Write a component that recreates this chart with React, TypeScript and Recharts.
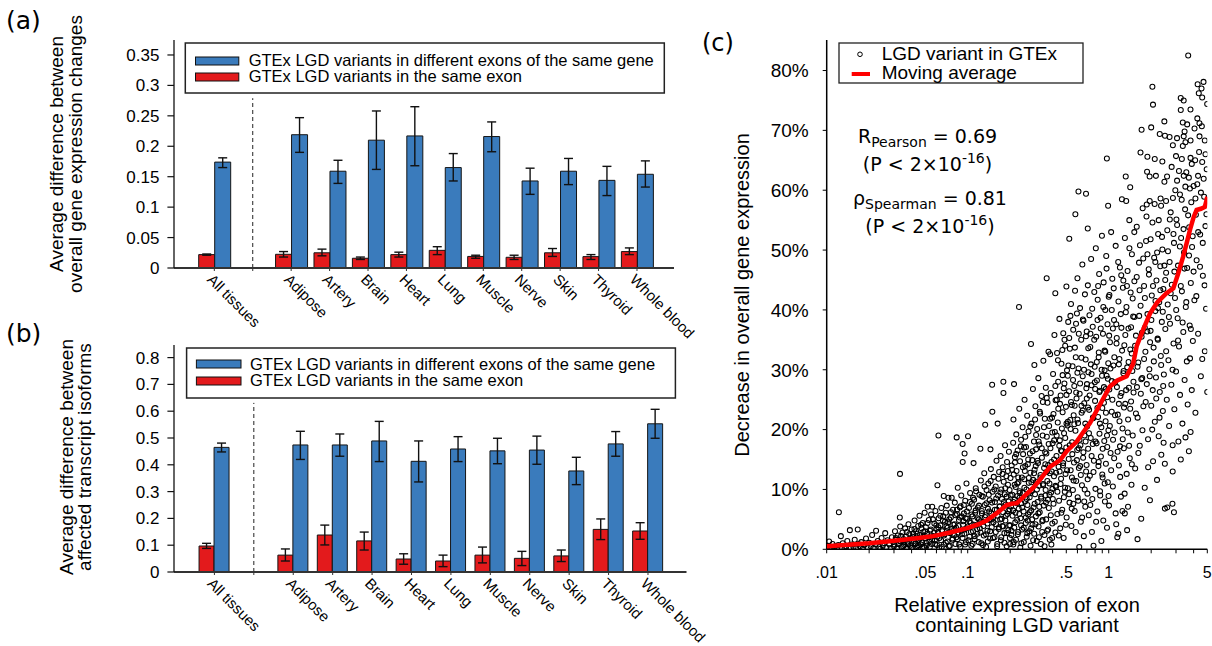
import React from 'react';
import { BarChart, Bar, XAxis, YAxis, ErrorBar, ReferenceLine, ScatterChart, Scatter } from 'recharts';

const SANS = '"Liberation Sans", Arial, Helvetica, sans-serif';
const DEJA = '"DejaVu Sans", Verdana, sans-serif';
const BLUE = '#3a7bbc';
const RED = '#e31a1c';

// ---------- categories (shared by panels a and b) ----------
const categories = ['All tissues', 'gap', 'Adipose', 'Artery', 'Brain', 'Heart', 'Lung', 'Muscle', 'Nerve', 'Skin', 'Thyroid', 'Whole blood'];

// ---------- panel (a): overall gene expression changes ----------
const aDiffExon = [0.174, null, 0.219, 0.159, 0.21, 0.217, 0.165, 0.216, 0.143, 0.159, 0.144, 0.154];
const aDiffExonLow = [0.165, null, 0.19, 0.139, 0.162, 0.168, 0.143, 0.191, 0.121, 0.137, 0.119, 0.133];
const aDiffExonHigh = [0.181, null, 0.247, 0.177, 0.258, 0.265, 0.188, 0.24, 0.164, 0.18, 0.167, 0.176];
const aSameExon = [0.022, null, 0.0225, 0.025, 0.016, 0.022, 0.029, 0.019, 0.0176, 0.025, 0.0187, 0.027];
const aSameExonLow = [0.021, null, 0.018, 0.02, 0.014, 0.018, 0.022, 0.016, 0.014, 0.019, 0.014, 0.022];
const aSameExonHigh = [0.023, null, 0.027, 0.031, 0.018, 0.026, 0.035, 0.021, 0.021, 0.032, 0.022, 0.033];
const aTicks = [0, 0.05, 0.1, 0.15, 0.2, 0.25, 0.3, 0.35];

// ---------- panel (b): affected transcript isoforms ----------
const bDiffExon = [0.465, null, 0.474, 0.474, 0.489, 0.413, 0.459, 0.452, 0.455, 0.377, 0.478, 0.553];
const bDiffExonLow = [0.448, null, 0.42, 0.432, 0.412, 0.336, 0.412, 0.404, 0.402, 0.326, 0.432, 0.499];
const bDiffExonHigh = [0.481, null, 0.525, 0.515, 0.562, 0.489, 0.505, 0.499, 0.507, 0.428, 0.524, 0.607];
const bSameExon = [0.097, null, 0.063, 0.138, 0.116, 0.0485, 0.041, 0.063, 0.051, 0.06, 0.159, 0.153];
const bSameExonLow = [0.088, null, 0.041, 0.101, 0.082, 0.029, 0.02, 0.034, 0.024, 0.039, 0.121, 0.122];
const bSameExonHigh = [0.107, null, 0.086, 0.175, 0.149, 0.068, 0.063, 0.093, 0.077, 0.082, 0.198, 0.184];
const bTicks = [0, 0.1, 0.2, 0.3, 0.4, 0.5, 0.6, 0.7, 0.8];

// ---------- panel (c): scatter, x = relative exon expression, y = % decrease ----------
const scatterVeryLow: [number, number][] = [
  [0.0101,0.2],[0.0102,0.6],[0.0104,1.3],[0.0105,0.1],[0.0107,0.4],[0.011,0.9],[0.0112,0.2],[0.0115,0.5],[0.0118,0.1],[0.0122,6.2],
  [0.0121,0.7],[0.0126,2.2],[0.0128,0.3],[0.013,1.0],[0.0134,0.1],[0.0137,0.5],[0.014,1.4],[0.0146,3.2],[0.0148,0.2],[0.015,0.8],
  [0.0155,0.4],[0.0158,1.6],[0.0162,0.2],[0.0166,3.3],[0.0168,0.9],[0.0172,0.5],[0.0176,1.2],[0.018,0.1],[0.0185,0.7],[0.019,1.8],
  [0.0195,0.3],[0.02,1.1],[0.0205,0.5],[0.021,2.4],[0.0215,0.2],[0.0224,3.1],[0.0222,0.8],[0.023,1.4],[0.0236,0.4],[0.024,0.1],
  [0.0245,1.9],[0.025,0.6],[0.0256,1.0],[0.026,2.7],[0.0265,0.3],[0.027,1.5],[0.0278,0.8],[0.0284,0.2],[0.029,2.0],[0.0296,1.2],
  [0.03,0.5],[0.0305,3.0],[0.031,1.6],[0.0315,0.1],[0.032,2.3],[0.0325,0.9],[0.0331,12.6],[0.033,5.3],[0.0332,3.8],[0.0335,1.3],
  [0.034,0.4],[0.0345,2.8],[0.035,1.7],[0.0355,0.7],[0.036,3.5],[0.0366,2.1],[0.037,0.2],[0.0375,1.1],[0.038,4.2],[0.0385,2.5],
  [0.039,0.6],[0.0395,1.9],[0.04,3.3],[0.0405,0.3],[0.041,2.6],[0.0415,1.4],[0.042,4.8],[0.0425,0.9],[0.043,3.0],[0.0436,2.0],
  [0.044,0.5],[0.0445,3.9],[0.045,1.6],[0.0455,5.6],[0.046,2.4],[0.0465,0.8],[0.047,3.5],[0.0475,1.2],[0.048,4.4],[0.0485,2.9],
  [0.049,0.4],[0.0495,6.1]
];
const scatterLow: [number, number][] = [
  [0.05,1.8],[0.0505,3.7],[0.051,0.6],[0.052,7.1],[0.0515,2.6],[0.053,4.9],[0.0535,1.3],[0.054,3.1],[0.055,5.8],[0.056,7.1],
  [0.0555,0.9],[0.057,2.2],[0.058,4.3],[0.0585,1.5],[0.059,6.4],[0.06,3.4],[0.061,10.7],[0.062,19.0],[0.0605,0.7],[0.0615,2.8],
  [0.0622,5.2],[0.063,1.9],[0.064,4.0],[0.065,6.9],[0.0655,0.4],[0.066,3.0],[0.0676,8.9],[0.067,5.5],[0.068,2.3],[0.069,4.6],
  [0.07,1.1],[0.071,7.3],[0.072,3.6],[0.073,8.6],[0.0735,0.5],[0.074,5.0],[0.075,2.7],[0.076,6.2],[0.077,8.6],[0.078,1.6],
  [0.079,4.1],[0.08,3.2],[0.081,7.8],[0.082,5.7],[0.0835,18.7],[0.083,2.0],[0.084,6.6],[0.085,10.3],[0.086,3.9],[0.087,0.8],
  [0.088,5.3],[0.089,7.2],[0.09,9.0],[0.092,17.6],[0.0921,14.6],[0.091,2.5],[0.093,4.7],[0.094,6.0],[0.095,16.0],[0.0952,3.3],
  [0.096,8.1],[0.097,1.2],[0.098,11.0],[0.099,5.1],[0.1005,18.9],[0.1,3.8],[0.102,6.9],[0.103,2.1],[0.104,9.4],[0.105,4.4],
  [0.106,0.6],[0.107,7.6],[0.108,5.5],[0.11,14.4],[0.109,3.0],[0.111,8.3],[0.112,1.7],[0.113,6.1],[0.114,10.2],[0.115,4.0],
  [0.117,2.6],[0.118,7.0],[0.12,5.0],[0.121,9.1],[0.123,16.8],[0.122,3.5],[0.124,11.5],[0.125,1.0],[0.126,6.4],[0.128,8.8],
  [0.129,4.6],[0.13,2.3],[0.131,12.7],[0.133,20.8],[0.132,7.4],[0.134,5.7],[0.135,0.4],[0.136,9.9],[0.138,3.1],[0.139,6.8],
  [0.14,11.0],[0.142,4.9],[0.143,8.2],[0.145,16.7],[0.144,1.8],[0.146,13.4],[0.147,6.0],[0.149,27.5],[0.1495,23.0],[0.148,3.7],
  [0.15,9.6],[0.152,5.3],[0.153,12.1],[0.155,2.0],[0.156,7.9],[0.158,10.5],[0.159,4.2],[0.16,14.8],[0.163,21.0],[0.161,6.6],
  [0.162,0.9],[0.164,9.0],[0.166,3.4],[0.167,12.9],[0.168,7.1],[0.17,5.0],[0.171,15.6],[0.172,1.5],[0.173,10.0],[0.175,8.4],
  [0.176,3.9],[0.177,13.7],[0.179,28.0],[0.1792,26.1],[0.178,6.2],[0.18,11.3],[0.182,2.7],[0.183,9.2],[0.184,17.4],[0.185,4.8],
  [0.186,7.5],[0.188,12.2],[0.189,0.5],[0.19,14.6],[0.191,5.9],[0.193,10.8],[0.194,3.2],[0.195,8.0],[0.196,16.3],[0.198,6.7],
  [0.199,1.9]
];
const scatterMid: [number, number][] = [
  [0.2,4.0],[0.201,11.9],[0.203,7.2],[0.204,2.4],[0.205,14.0],[0.207,9.1],[0.208,5.6],[0.21,17.8],[0.2105,0.8],[0.211,21.7],
  [0.212,12.5],[0.213,27.6],[0.214,3.6],[0.215,8.3],[0.216,15.4],[0.218,6.1],[0.219,10.4],[0.22,1.6],[0.221,19.2],[0.222,13.1],
  [0.224,4.9],[0.225,8.9],[0.226,16.5],[0.228,2.9],[0.229,11.2],[0.231,40.5],[0.23,6.8],[0.232,23.5],[0.233,9.7],[0.235,14.7],
  [0.236,0.3],[0.237,5.2],[0.239,18.3],[0.24,7.7],[0.242,12.0],[0.243,3.3],[0.245,20.4],[0.246,9.4],[0.247,15.9],[0.249,6.3],
  [0.25,1.2],[0.252,11.7],[0.253,25.0],[0.255,8.0],[0.256,13.9],[0.258,4.4],[0.259,17.1],[0.261,10.0],[0.262,2.1],[0.264,22.3],
  [0.265,7.4],[0.267,14.2],[0.268,5.8],[0.27,19.7],[0.271,11.1],[0.273,3.0],[0.275,8.7],[0.276,16.0],[0.278,12.8],[0.279,0.6],
  [0.281,34.3],[0.282,6.5],[0.283,21.0],[0.285,9.8],[0.287,14.9],[0.288,4.1],[0.29,26.8],[0.291,11.6],[0.293,7.0],[0.295,18.0],
  [0.297,30.8],[0.296,2.6],[0.298,13.3],[0.3,9.2],[0.302,23.9],[0.304,5.5],[0.305,16.7],[0.307,11.3],[0.309,1.4],[0.311,20.1],
  [0.313,7.9],[0.315,14.4],[0.317,28.6],[0.318,3.8],[0.32,10.6],[0.322,17.5],[0.324,6.2],[0.326,22.7],[0.328,12.4],[0.33,0.9],
  [0.332,8.5],[0.334,25.6],[0.336,15.3],[0.338,4.7],[0.34,19.0],[0.342,10.9],[0.344,31.5],[0.346,7.3],[0.348,13.6],[0.35,2.4],
  [0.352,21.8],[0.354,16.2],[0.356,9.0],[0.358,27.0],[0.36,5.0],[0.363,45.3],[0.362,12.9],[0.364,18.8],[0.366,3.1],[0.368,24.5],
  [0.37,8.3],[0.372,14.1],[0.374,33.0],[0.376,6.9],[0.378,20.6],[0.38,11.0],[0.382,1.6],[0.384,32.6],[0.386,16.9],[0.388,26.1],
  [0.39,9.5],[0.392,0.8],[0.394,13.0],[0.396,22.0],[0.398,4.3],[0.4,17.7],[0.403,29.3],[0.406,7.6],[0.409,12.2],[0.412,35.8],
  [0.415,19.6],[0.418,42.8],[0.4185,2.8],[0.42,24.9],[0.423,10.4],[0.426,15.6],[0.43,32.8],[0.432,5.9],[0.435,21.2],[0.438,28.0],
  [0.441,13.8],[0.444,8.1],[0.447,38.5],[0.45,18.2],[0.453,3.5],[0.456,25.7],[0.459,11.8],[0.462,31.0],[0.465,16.4],[0.468,6.6],
  [0.471,22.9],[0.474,14.0],[0.476,36.1],[0.479,1.9],[0.482,19.4],[0.485,27.7],[0.488,9.6],[0.491,34.0],[0.494,12.6],[0.497,23.8],
  [0.5,17.0],[0.501,43.9],[0.503,5.3],[0.506,29.9],[0.51,20.7],[0.513,10.2],[0.516,38.0],[0.52,15.1],[0.523,26.4],[0.525,51.9],
  [0.527,7.8],[0.53,33.5],[0.534,21.6],[0.537,13.2],[0.54,41.0],[0.544,3.9],[0.547,24.1],[0.55,17.9],[0.554,30.6],[0.557,9.9],
  [0.56,36.7],[0.564,22.4],[0.567,14.5],[0.57,27.3],[0.574,6.4],[0.577,43.2],[0.58,56.0],[0.581,19.8],[0.584,32.1],[0.588,11.4],
  [0.591,25.2],[0.595,39.4],[0.598,16.6]
];
const scatterUpperMid: [number, number][] = [
  [0.6,45.3],[0.602,8.7],[0.606,21.1],[0.61,59.8],[0.611,30.2],[0.614,13.6],[0.618,0.4],[0.622,26.0],[0.626,40.3],[0.63,17.4],
  [0.634,4.6],[0.638,35.0],[0.642,22.8],[0.646,10.7],[0.65,47.6],[0.654,28.9],[0.658,15.3],[0.662,38.2],[0.666,2.2],[0.67,24.4],
  [0.674,19.0],[0.678,42.6],[0.682,7.1],[0.686,31.7],[0.69,59.4],[0.691,13.0],[0.694,26.9],[0.698,36.4],[0.702,20.5],[0.706,9.3],
  [0.71,53.6],[0.711,44.1],[0.714,16.8],[0.718,29.6],[0.722,5.7],[0.726,23.3],[0.73,39.1],[0.735,12.3],[0.74,33.8],[0.745,18.6],
  [0.75,48.5],[0.755,27.4],[0.76,2.9],[0.765,8.4],[0.77,37.2],[0.775,21.9],[0.78,0.6],[0.785,14.8],[0.79,43.0],[0.795,30.5],
  [0.8,24.8],[0.805,10.1],[0.81,50.3],[0.815,35.5],[0.82,17.7],[0.825,28.2],[0.83,6.3],[0.835,41.7],[0.84,22.1],[0.845,13.9],
  [0.85,32.9],[0.855,46.0],[0.86,19.3],[0.865,26.5],[0.87,9.0],[0.875,38.7],[0.88,15.5],[0.887,1.4],[0.89,30.0],[0.895,52.4],
  [0.9,23.6],[0.905,12.0],[0.91,36.0],[0.915,4.8],[0.92,44.6],[0.925,27.1],[0.93,18.1],[0.935,33.2],[0.94,8.0],[0.945,40.0],
  [0.95,21.4],[0.955,14.3],[0.96,49.0],[0.965,29.0],[0.97,65.3],[0.972,3.6],[0.975,25.4],[0.98,37.6],[0.985,11.2],[0.99,57.4],
  [0.992,31.1],[0.995,19.9],[1.0,42.2],[1.005,7.3],[1.01,26.7],[1.02,34.6],[1.03,16.1],[1.04,53.0],[1.05,23.0],[1.06,45.2],
  [1.07,10.5],[1.08,30.7],[1.09,38.3],[1.1,19.5],[1.11,27.9],[1.12,50.7],[1.13,4.2],[1.14,35.3],[1.15,2.0],[1.16,22.5],
  [1.17,2.6],[1.172,41.4],[1.18,14.0],[1.19,31.8],[1.2,47.1],[1.21,25.6],[1.22,8.8],[1.23,37.0],[1.24,58.5],[1.25,6.4],
  [1.252,20.2],[1.26,43.7],[1.27,29.4],[1.28,16.9],[1.29,34.1],[1.3,6.0],[1.302,52.0],[1.31,24.3],[1.32,62.3],[1.322,39.6],
  [1.33,58.2],[1.34,12.6],[1.35,3.2],[1.352,30.4],[1.36,46.5],[1.37,7.1],[1.372,21.7],[1.38,36.9],[1.39,27.0],[1.4,55.0],
  [1.41,15.2],[1.42,60.5],[1.422,33.4],[1.43,42.9],[1.44,24.7],[1.45,10.8],[1.46,49.3],[1.47,29.8],[1.48,19.0],[1.49,38.9]
];
const scatterHigh: [number, number][] = [
  [1.5,26.2],[1.52,44.8],[1.54,13.5],[1.56,35.7],[1.58,53.9],[1.6,1.7],[1.602,22.0],[1.62,31.2],[1.64,47.9],[1.66,17.3],
  [1.68,66.3],[1.682,40.7],[1.7,5.1],[1.702,28.4],[1.71,70.1],[1.72,36.2],[1.74,57.0],[1.76,23.9],[1.78,44.0],[1.8,10.3],
  [1.82,33.0],[1.84,51.5],[1.86,57.6],[1.862,27.6],[1.87,63.1],[1.88,65.6],[1.882,39.3],[1.9,18.4],[1.92,46.8],[1.94,30.1],
  [1.95,62.3],[1.952,58.2],[1.96,8.2],[1.98,36.5],[2.0,70.5],[2.002,24.0],[2.02,42.4],[2.04,77.3],[2.042,54.6],[2.06,74.3],
  [2.062,14.7],[2.08,33.7],[2.1,48.7],[2.12,65.2],[2.122,21.3],[2.14,39.8],[2.16,62.4],[2.162,28.7],[2.18,44.9],[2.2,11.6],
  [2.22,35.2],[2.24,52.7],[2.26,18.9],[2.28,41.3],[2.3,69.4],[2.302,26.3],[2.32,47.3],[2.34,32.3],[2.35,57.4],[2.36,15.8],
  [2.38,38.0],[2.4,64.8],[2.402,50.1],[2.42,23.1],[2.44,43.5],[2.46,29.2],[2.48,71.5],[2.482,61.4],[2.5,14.3],[2.502,6.8],
  [2.505,69.1],[2.52,36.8],[2.55,58.2],[2.552,46.2],[2.58,25.0],[2.6,7.0],[2.602,53.3],[2.62,40.9],[2.65,31.6],[2.68,20.6],
  [2.7,68.9],[2.702,48.0],[2.72,37.7],[2.75,56.3],[2.78,27.5],[2.8,44.2],[2.83,7.6],[2.84,17.4],[2.842,13.0],[2.85,67.5],
  [2.852,58.7],[2.88,34.4],[2.9,6.2],[2.902,51.2],[2.92,23.4],[2.95,42.0],[3.0,65.7],[3.002,29.7],[3.02,55.1],[3.05,68.7],
  [3.052,61.6],[3.08,38.6],[3.1,47.4],[3.12,18.0],[3.15,33.9],[3.2,59.3],[3.202,25.8],[3.24,75.4],[3.242,73.4],[3.244,15.0],
  [3.26,52.0],[3.3,65.2],[3.302,43.1],[3.33,21.0],[3.35,71.3],[3.352,67.4],[3.38,36.3],[3.4,75.0],[3.402,69.0],[3.404,62.4],
  [3.42,49.6],[3.45,69.8],[3.452,28.3],[3.48,56.8],[3.5,68.0],[3.502,18.7],[3.52,40.5],[3.55,63.0],[3.58,31.4],[3.6,47.0],
  [3.63,24.2],[3.66,82.5],[3.7,62.1],[3.702,16.4],[3.72,53.8],[3.75,37.4],[3.77,31.9],[3.8,73.5],[3.802,65.4],[3.804,68.3],
  [3.806,19.6],[3.82,44.5],[3.85,58.0],[3.88,26.6],[3.9,50.5],[3.95,34.8],[4.0,60.7],[4.05,41.6],[4.1,65.0],[4.12,22.8],
  [4.15,55.9],[4.2,48.3],[4.25,72.0],[4.27,77.7],[4.3,62.4],[4.302,36.0],[4.35,76.2],[4.4,71.2],[4.402,69.0],[4.45,52.6],
  [4.5,28.9],[4.55,77.0],[4.6,75.5],[4.602,64.7],[4.604,31.8],[4.65,45.7],[4.7,78.1],[4.75,58.9],[4.8,68.3],[4.802,33.1],
  [4.85,54.0],[4.9,40.2],[4.95,63.5],[4.99,74.4],[4.995,26.3]
];
// the dense core of the cloud, close to the moving average
const coreLow: [number, number][] = [
  [0.0302,0.8],[0.0309,1.9],[0.0317,0.3],[0.0328,1.4],[0.0337,2.2],[0.0349,0.5],[0.0357,1.2],[0.0369,2.9],[0.0377,0.9],[0.0389,1.6],
  [0.0398,0.2],[0.0407,2.1],[0.0419,3.4],[0.0427,1.0],[0.0439,2.6],[0.0447,0.7],[0.0459,1.8],[0.0467,4.1],[0.0479,0.3],[0.0487,2.3],
  [0.0499,3.0],[0.0507,1.1],[0.0519,4.4],[0.0527,2.0],[0.0539,0.4],[0.0547,3.3],[0.0559,1.6],[0.0567,5.0],[0.0579,2.8],[0.0587,0.9],
  [0.0599,4.0],[0.0607,2.1],[0.0619,3.7],[0.0627,0.2],[0.0639,5.6],[0.0647,1.5],[0.0659,3.2],[0.0667,4.8],[0.0679,0.8],[0.0687,2.5],
  [0.0699,6.1],[0.0707,3.9],[0.0719,1.3],[0.0727,4.5],[0.0739,2.9],[0.0747,0.6],[0.0759,5.3],[0.0767,3.4],[0.0779,1.8],[0.0787,6.6],
  [0.0799,2.4],[0.0807,4.2],[0.0819,0.9],[0.0827,3.6],[0.0839,5.9],[0.0847,1.7],[0.0859,2.8],[0.0867,4.9],[0.0879,7.0],[0.0887,0.4],
  [0.0899,3.1],[0.0907,5.5],[0.0919,1.9],[0.0927,4.1],[0.0939,7.4],[0.0947,2.6],[0.0959,0.8],[0.0967,5.2],[0.0979,3.5],[0.0987,6.3],
  [0.1012,1.5],[0.1027,4.7],[0.1036,7.9],[0.1054,2.9],[0.1063,5.8],[0.1083,0.9],[0.1091,8.6],[0.1111,4.1],[0.1119,2.2],[0.1139,6.5],
  [0.1147,9.7],[0.1167,3.4],[0.1175,5.2],[0.1195,1.2],[0.1203,7.3],[0.1223,4.7],[0.1232,2.8],[0.1253,8.9],[0.1262,6.0],[0.1283,0.7],
  [0.1293,3.9],[0.1315,10.5],[0.1325,5.4],[0.1347,2.5],[0.1357,7.7],[0.1379,4.3],[0.1389,1.3],[0.1411,9.1],[0.1421,6.3],[0.1443,3.0],
  [0.1454,11.4],[0.1477,5.0],[0.1488,7.8],[0.1511,1.9],[0.1522,4.5],[0.1545,10.0],[0.1557,6.6],[0.1581,2.9],[0.1593,8.5],[0.1617,0.5],
  [0.1629,5.6],[0.1653,11.8],[0.1666,3.7],[0.1691,7.2],[0.1704,9.5],[0.1729,2.0],[0.1742,5.1],[0.1767,12.6],[0.1781,3.8],[0.1807,7.9],
  [0.1821,1.1],[0.1847,10.2],[0.1861,5.6],[0.1887,8.8],[0.1901,2.7],[0.1927,13.1],[0.1941,6.4],[0.1967,4.0],[0.1981,9.9],[0.1996,0.9]
];
const coreMid: [number, number][] = [
  [0.2015,9.0],[0.2044,3.1],[0.2066,13.3],[0.2098,6.5],[0.2119,1.2],[0.2152,10.8],[0.2173,4.5],[0.2207,15.9],[0.2229,7.7],[0.2263,2.5],
  [0.2285,12.0],[0.2321,5.9],[0.2343,9.4],[0.2378,17.2],[0.2401,1.0],[0.2437,7.0],[0.2461,13.7],[0.2497,3.6],[0.2522,10.3],[0.2559,18.8],
  [0.2584,5.3],[0.2621,8.4],[0.2647,2.7],[0.2685,15.0],[0.2711,11.9],[0.2751,6.2],[0.2777,20.5],[0.2816,3.5],[0.2844,9.8],[0.2884,16.4],
  [0.2912,1.5],[0.2953,12.7],[0.2982,7.6],[0.3024,4.2],[0.3053,19.1],[0.3095,10.0],[0.3125,14.8],[0.3168,6.0],[0.3199,2.0],[0.3243,23.0],
  [0.3274,12.0],[0.3318,8.8],[0.3351,16.9],[0.3396,4.9],[0.3428,10.7],[0.3474,20.4],[0.3507,0.5],[0.3553,14.2],[0.3587,7.8],[0.3634,25.3],
  [0.3669,11.4],[0.3716,3.3],[0.3751,17.6],[0.3799,9.1],[0.3835,21.8],[0.3883,5.7],[0.3921,14.6],[0.3969,1.9],[0.3977,19.5],[0.3988,10.1],
  [0.2108,7.9],[0.2246,11.0],[0.2389,4.0],[0.2541,13.1],[0.2698,9.3],[0.2864,5.0],[0.3037,13.9],[0.3219,7.1],[0.3411,24.6],[0.3612,16.0],
  [0.3821,12.7],[0.2162,14.5],[0.2331,8.6],[0.2509,17.0],[0.2666,4.8],[0.2831,11.2],[0.3004,21.7],[0.3183,18.0],[0.3372,2.9],[0.357,9.9],
  [0.4012,8.4],[0.4057,22.6],[0.4096,15.0],[0.4145,4.6],[0.4183,27.3],[0.4234,12.8],[0.4273,19.0],[0.4325,9.6],[0.4365,31.6],[0.4418,2.3],
  [0.4459,17.3],[0.4513,24.3],[0.4555,10.9],[0.4611,6.1],[0.4653,20.2],[0.4709,29.1],[0.4753,14.4],[0.4811,8.7],[0.4855,35.0],[0.4913,18.6],
  [0.4959,4.1],[0.5018,25.8],[0.5066,13.2],[0.5127,21.3],[0.5175,30.7],[0.5236,9.2],[0.5286,17.4],[0.5349,39.0],[0.5401,24.6],[0.5464,6.8],
  [0.5517,15.9],[0.5581,28.3],[0.5635,11.5],[0.5701,20.9],[0.5756,33.7],[0.5823,2.9],[0.5879,26.2],[0.5948,14.9],[0.6005,21.7],[0.6075,8.1],
  [0.6134,36.0],[0.6205,18.3],[0.6265,27.7],[0.6338,12.4],[0.6399,32.0],[0.6474,5.3],[0.6537,23.2],[0.6613,16.2],[0.6677,30.0],[0.6754,10.0],
  [0.682,21.0],[0.6899,35.6],[0.6966,14.1],[0.6988,25.2],[0.4101,18.2],[0.4288,25.0],[0.4484,13.0],[0.4689,33.3],[0.4903,10.3],[0.5127,29.0],
  [0.5361,20.1],[0.5606,7.6],[0.5862,37.7],[0.613,16.9],[0.6409,24.0],[0.6702,8.0],[0.4195,10.6],[0.4387,23.5],[0.4588,16.5],[0.4797,26.9],
  [0.5016,21.0],[0.5245,35.3],[0.5484,12.0],[0.5735,24.0],[0.5996,29.5],[0.627,13.9],[0.6556,38.4],[0.6855,18.0]
];
const coreHigh: [number, number][] = [
  [0.7012,27.6],[0.7089,11.7],[0.716,33.6],[0.7243,19.4],[0.7315,25.7],[0.74,7.4],[0.7473,30.9],[0.7559,15.6],[0.7634,40.2],[0.7722,22.0],
  [0.7799,12.9],[0.7889,35.0],[0.7967,27.9],[0.8059,18.0],[0.8139,4.6],[0.8232,31.3],[0.8314,23.6],[0.8409,44.0],[0.8493,14.6],[0.859,26.3],
  [0.8676,9.7],[0.8775,36.9],[0.8863,20.4],[0.8964,29.0],[0.9054,16.8],[0.9157,40.5],[0.9249,24.5],[0.9354,11.0],[0.9448,33.0],[0.9555,22.8],
  [0.9651,46.9],[0.976,17.1],[0.9858,28.5],[0.9969,8.9],[1.0069,35.7],[1.0182,20.6],[1.0285,30.2],[1.04,13.2],[1.0504,40.0],[1.0622,25.0],
  [1.0729,18.3],[1.0849,43.6],[1.0958,32.1],[1.108,22.4],[1.1192,6.0],[1.1316,37.6],[1.143,27.1],[1.1557,16.3],[1.1673,48.0],[1.1803,30.9],
  [1.1922,21.4],[1.2054,12.1],[1.2175,39.3],[1.231,26.1],[1.2434,33.2],[1.2571,18.4],[1.2697,44.9],[1.2837,23.7],[1.2966,9.3],[0.7133,23.7],
  [0.7415,36.0],[0.7708,17.6],[0.8012,26.8],[0.8328,38.3],[0.8657,21.0],[0.8999,12.5],[0.9354,29.9],[0.9724,19.0],[1.0108,42.5],[1.0507,28.1],
  [1.0922,15.2],[1.1353,34.4],[1.1801,24.3],[1.2267,45.8],[1.2751,29.8],[0.7555,29.3],[0.8485,32.1],[0.9529,26.8],[1.0702,36.9],[1.2019,17.2],
  [1.3112,35.8],[1.3291,26.6],[1.3463,44.0],[1.3649,19.5],[1.3826,31.3],[1.4017,50.3],[1.4199,23.5],[1.4395,37.1],[1.4582,14.2],[1.4783,41.9],
  [1.4975,28.0],[1.5182,53.0],[1.5379,34.0],[1.5591,22.7],[1.5794,45.5],[1.6012,30.5],[1.622,16.1],[1.6443,39.0],[1.6657,50.8],[1.6886,26.0],
  [1.7106,35.5],[1.7341,19.9],[1.7567,48.6],[1.7808,31.8],[1.8041,42.0],[1.8288,24.6],[1.8527,55.6],[1.8781,36.4],[1.9026,13.7],[1.9287,45.9],
  [1.9539,28.9],[1.9807,51.8],[2.0066,38.3],[2.0341,20.0],[2.0607,44.0],[2.0889,31.4],[2.1162,57.7],[2.1452,41.5],[2.1733,25.2],[2.203,49.6],
  [2.2319,35.0],[2.2623,55.0],[2.292,22.0],[2.3233,43.3],[2.3538,30.8],[2.3859,52.2],[2.4173,39.7],[2.4502,17.8],[2.4824,47.4],[1.3357,40.5],
  [1.3941,17.3],[1.4552,32.7],[1.5189,38.8],[1.5854,27.1],[1.6548,43.3],[1.7272,28.6],[1.8027,37.0],[1.8816,49.3],[1.964,34.6],[2.05,26.6],
  [2.1397,48.0],[2.2334,40.3],[2.3312,58.6],[2.4332,27.3],[2.5158,45.0],[2.554,33.1],[2.5918,62.3],[2.6314,49.8],[2.6704,38.8],[2.7112,55.1],
  [2.7514,42.8],[2.7934,63.9],[2.8348,30.0],[2.8781,52.7],[2.9208,46.4],[2.9654,60.0],[3.0094,40.0],[3.0553,54.2],[3.1007,34.9],[3.148,63.2],
  [3.1948,50.6],[3.2435,44.0],[3.2917,58.4],[3.3418,37.9],[3.3915,53.5],[3.4432,46.9],[3.4944,60.6],[3.5476,41.3],[3.6004,71.0],[3.6552,55.8],
  [3.7096,49.1],[3.766,60.3],[3.8221,36.8],[3.8802,64.4],[3.938,52.3],[3.9979,46.4],[4.0575,70.3],[4.1192,58.6],[4.1806,42.3],[4.2441,61.0],
  [4.3074,53.0],[4.3728,66.4],[4.438,47.2],[4.5054,59.6],[4.5726,70.7],[4.642,51.2],[4.7113,61.9],[4.7828,44.1],[4.8542,66.0],[4.9279,56.0]
];
const movingAverage: [number, number][] = [
  [0.01,0.5],[0.015,0.8],[0.02,1.0],[0.0267,1.3],[0.035,1.6],[0.045,1.9],[0.057,2.2],[0.075,2.8],[0.098,3.5],[0.12,4.2],
  [0.136,4.8],[0.16,6.0],[0.189,7.4],[0.205,7.6],[0.223,7.7],[0.25,8.8],[0.292,10.3],[0.33,11.8],[0.384,13.8],[0.452,14.9],
  [0.504,16.4],[0.593,18.0],[0.661,19.6],[0.736,21.1],[0.867,24.2],[1.02,27.2],[1.15,28.2],[1.34,28.9],[1.49,31.0],[1.58,34.0],
  [1.76,36.8],[1.96,39.4],[2.2,41.2],[2.57,42.8],[2.87,43.6],[3.1,46.0],[3.37,48.9],[3.6,51.5],[3.77,53.4],[4.0,55.5],
  [4.2,56.7],[4.5,56.9],[4.8,57.2],[4.92,58.2],[5.0,58.9]
];
const cXTicks = [0.01, 0.02, 0.03, 0.04, 0.05, 0.06, 0.07, 0.08, 0.09, 0.1, 0.2, 0.3, 0.4, 0.5, 0.6, 0.7, 0.8, 0.9, 1, 2, 3, 4, 5];
const cXLabels: Record<string, string> = { '0.01': '.01', '0.05': '.05', '0.1': '.1', '0.5': '.5', '1': '1', '5': '5' };
const cYTicks = [0, 10, 20, 30, 40, 50, 60, 70, 80];

// ---------- tables ----------
function buildTable(diff: (number | null)[], diffLo: (number | null)[], diffHi: (number | null)[], same: (number | null)[], sameLo: (number | null)[], sameHi: (number | null)[]) {
  return categories.map((cat, i) => {
    const d = diff[i], s = same[i];
    return {
      cat,
      same: s,
      diff: d,
      sameErr: s == null ? undefined : [s - (sameLo[i] as number), (sameHi[i] as number) - s],
      diffErr: d == null ? undefined : [d - (diffLo[i] as number), (diffHi[i] as number) - d],
    };
  });
}
const tableA = buildTable(aDiffExon, aDiffExonLow, aDiffExonHigh, aSameExon, aSameExonLow, aSameExonHigh);
const tableB = buildTable(bDiffExon, bDiffExonLow, bDiffExonHigh, bSameExon, bSameExonLow, bSameExonHigh);
const points = [...scatterVeryLow, ...scatterLow, ...scatterMid, ...scatterUpperMid, ...scatterHigh, ...coreLow, ...coreMid, ...coreHigh]
  .map(([x, y]) => ({ x, y }));
const maLine = movingAverage.map(([x, y]) => ({ x, y }));

const CatTick = (p: any) => {
  const v = p.payload && p.payload.value;
  if (v === 'gap') return <g />;
  const ax = p.x - 8;
  const ay = p.y + 9.5;
  return (
    <text x={ax} y={ay} transform={`rotate(45 ${ax} ${ay})`} fontSize={15} fontFamily={SANS} fill="#000" textAnchor="start">
      {v}
    </text>
  );
};

type BarPanelProps = {
  data: any[]; width: number; height: number; mTop: number; mRight: number; xH: number;
  yMax: number; ticks: number[]; padL: number; padR: number; gap: number; dashTop: number;
};
const BarPanel = ({ data, width, height, mTop, mRight, xH, yMax, ticks, padL, padR, gap, dashTop }: BarPanelProps) => (
  <BarChart width={width} height={height} data={data} margin={{ top: mTop, right: mRight, left: 0, bottom: 0 }} barCategoryGap={gap} barGap={0}>
    <XAxis dataKey="cat" type="category" height={xH} padding={{ left: padL, right: padR }} interval={0}
      axisLine={{ stroke: '#333', strokeWidth: 2 }} tickLine={{ stroke: '#333', strokeWidth: 1 }} tickSize={3} tickMargin={0} tick={<CatTick />} />
    <YAxis type="number" domain={[0, yMax]} ticks={ticks} interval={0} width={174} allowDataOverflow
      axisLine={{ stroke: '#111', strokeWidth: 1.3 }} tickLine={{ stroke: '#111', strokeWidth: 1.2 }} tickSize={6.6} tickMargin={8}
      tickFormatter={(v: number) => String(v)} tick={{ fontSize: 17, fill: '#000', fontFamily: SANS }} />
    <ReferenceLine segment={[{ x: 'gap', y: 0 }, { x: 'gap', y: dashTop }]} stroke="#222" strokeWidth={1} strokeDasharray="4 3" />
    <Bar dataKey="same" fill={RED} stroke="#151515" strokeWidth={1} isAnimationActive={false}>
      <ErrorBar dataKey="sameErr" width={4.5} stroke="#111" strokeWidth={1.4} direction="y" />
    </Bar>
    <Bar dataKey="diff" fill={BLUE} stroke="#151515" strokeWidth={1} isAnimationActive={false}>
      <ErrorBar dataKey="diffErr" width={4.5} stroke="#111" strokeWidth={1.4} direction="y" />
    </Bar>
  </BarChart>
);

const Ring = (p: any) => <circle cx={p.cx} cy={p.cy} r={2.5} fill="none" stroke="#000" strokeWidth={1.05} />;
const NoDot = () => <g />;

export default function App() {
  return (
    <div style={{ position: 'absolute', left: 0, top: 0, width: 1212, height: 646, background: '#fff', overflow: 'hidden' }}>
      <div style={{ position: 'absolute', left: 0, top: 0 }}>
        <BarPanel data={tableA} width={712} height={360} mTop={40} mRight={38} xH={92} yMax={0.3746}
          ticks={aTicks} padL={21.1} padR={17.8} gap={3.6} dashTop={0.279} />
      </div>
      <div style={{ position: 'absolute', left: 0, top: 320 }}>
        <BarPanel data={tableB} width={712} height={326} mTop={25} mRight={25.5} xH={74} yMax={0.847}
          ticks={bTicks} padL={20.7} padR={18.8} gap={4.35} dashTop={0.631} />
      </div>
      <div style={{ position: 'absolute', left: 700, top: 0 }}>
        <ScatterChart width={512} height={646} margin={{ top: 40, right: 4.7, left: 0, bottom: 0 }}>
          <XAxis type="number" dataKey="x" scale="log" domain={[0.01, 5]} allowDataOverflow ticks={cXTicks} interval={0}
            height={96.7} tickSize={4} tickMargin={13}
            tickFormatter={(v: number) => cXLabels[String(v)] || ''}
            axisLine={{ stroke: '#000', strokeWidth: 1.5 }} tickLine={{ stroke: '#000', strokeWidth: 1 }}
            tick={{ fontSize: 16, fill: '#000', fontFamily: SANS }} />
          <YAxis type="number" dataKey="y" domain={[0, 85.1]} allowDataOverflow ticks={cYTicks} interval={0}
            width={126.7} tickSize={4} tickMargin={14} tickFormatter={(v: number) => `${v}%`}
            axisLine={{ stroke: '#000', strokeWidth: 1.5 }} tickLine={{ stroke: '#000', strokeWidth: 1 }}
            tick={{ fontSize: 19, fill: '#000', fontFamily: SANS }} />
          <Scatter data={points} shape={Ring} isAnimationActive={false} />
          <Scatter data={maLine} shape={NoDot} line={{ stroke: '#ff0000', strokeWidth: 4.5 }} isAnimationActive={false} />
        </ScatterChart>
      </div>

      <svg width={1212} height={646} style={{ position: 'absolute', left: 0, top: 0, pointerEvents: 'none' }}>
        {/* panel letters */}
        <text x={6} y={28.5} fontSize={25} fontFamily={DEJA} fill="#000">(a)</text>
        <text x={6} y={342} fontSize={25} fontFamily={DEJA} fill="#000">(b)</text>
        <text x={702} y={51} fontSize={24} fontFamily={DEJA} fill="#000">(c)</text>

        {/* y labels a */}
        <text transform="translate(62.5,154) rotate(-90)" textAnchor="middle" fontSize={19} fontFamily={SANS} fill="#000">Average difference between</text>
        <text transform="translate(81.5,154) rotate(-90)" textAnchor="middle" fontSize={19} fontFamily={SANS} fill="#000">overall gene expression changes</text>
        {/* y labels b */}
        <text transform="translate(72.5,457) rotate(-90)" textAnchor="middle" fontSize={19} fontFamily={SANS} fill="#000">Average difference between</text>
        <text transform="translate(91,457) rotate(-90)" textAnchor="middle" fontSize={19} fontFamily={SANS} fill="#000">affected transcript isoforms</text>

        {/* legend a */}
        <rect x={185.3} y={43} width={479} height={50} fill="#fff" stroke="#222" strokeWidth={1.5} />
        <rect x={195.5} y={57} width={43.3} height={8} fill={BLUE} stroke="#111" strokeWidth={1} />
        <rect x={195.5} y={73} width={43.3} height={8} fill={RED} stroke="#111" strokeWidth={1} />
        <text x={248.7} y={66} fontSize={16.5} fontFamily={SANS} fill="#000">GTEx LGD variants in different exons of the same gene</text>
        <text x={248.7} y={82} fontSize={16.5} fontFamily={SANS} fill="#000">GTEx LGD variants in the same exon</text>

        {/* legend b */}
        <rect x={186.6} y={348} width={488.8} height={50} fill="#fff" stroke="#222" strokeWidth={1.5} />
        <rect x={196.4} y={360} width={44.6} height={8} fill={BLUE} stroke="#111" strokeWidth={1} />
        <rect x={196.4} y={377} width={44.6} height={8} fill={RED} stroke="#111" strokeWidth={1} />
        <text x={250} y={370} fontSize={16.5} fontFamily={SANS} fill="#000">GTEx LGD variants in different exons of the same gene</text>
        <text x={250} y={386} fontSize={16.5} fontFamily={SANS} fill="#000">GTEx LGD variants in the same exon</text>

        {/* legend c */}
        <rect x={839} y={43} width={244} height={40} fill="#fff" stroke="#222" strokeWidth={1.3} />
        <circle cx={860} cy={54.3} r={2.3} fill="none" stroke="#000" strokeWidth={1} />
        <line x1={851.7} x2={870} y1={74} y2={74} stroke="#ff0000" strokeWidth={4} />
        <text x={881.7} y={60} fontSize={19} fontFamily={SANS} fill="#000">LGD variant in GTEx</text>
        <text x={881.7} y={79} fontSize={19} fontFamily={SANS} fill="#000">Moving average</text>

        {/* axis titles c */}
        <text transform="translate(748.5,295) rotate(-90)" textAnchor="middle" fontSize={20} fontFamily={SANS} fill="#000">Decrease in overall gene expression</text>
        <text x={1017} y={611.7} textAnchor="middle" fontSize={20} fontFamily={SANS} fill="#000">Relative expression of exon</text>
        <text x={1017} y={631.7} textAnchor="middle" fontSize={20} fontFamily={SANS} fill="#000">containing LGD variant</text>

        {/* correlation annotations */}
        <text x={927.5} y={143.3} textAnchor="middle" fontSize={19} fontFamily={DEJA} fill="#000">
          R<tspan fontSize={14} dy={4}>Pearson</tspan><tspan dy={-4}> = 0.69</tspan>
        </text>
        <text x={927.5} y={171} textAnchor="middle" fontSize={19} fontFamily={DEJA} fill="#000">
          (P &lt; 2×10<tspan fontSize={14} dy={-8}>-16</tspan><tspan dy={8}>)</tspan>
        </text>
        <text x={930} y={205} textAnchor="middle" fontSize={19} fontFamily={DEJA} fill="#000">
          ρ<tspan fontSize={14} dy={4}>Spearman</tspan><tspan dy={-4}> = 0.81</tspan>
        </text>
        <text x={930} y={232.7} textAnchor="middle" fontSize={19} fontFamily={DEJA} fill="#000">
          (P &lt; 2×10<tspan fontSize={14} dy={-8}>-16</tspan><tspan dy={8}>)</tspan>
        </text>
      </svg>
    </div>
  );
}
